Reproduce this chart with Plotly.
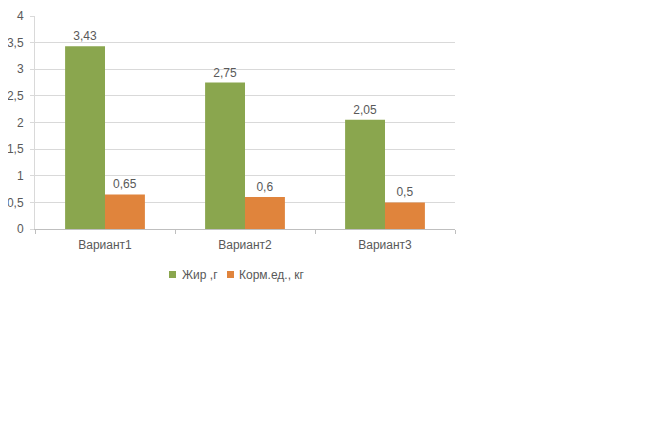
import plotly.graph_objects as go

categories = ["Вариант1", "Вариант2", "Вариант3"]
fat_values = [3.43, 2.75, 2.05]
feed_values = [0.65, 0.6, 0.5]
series_names = ["Жир ,г", "Корм.ед., кг"]
series_colors = ["#8aa64e", "#e0843c"]
y_ticks = [0, 0.5, 1, 1.5, 2, 2.5, 3, 3.5, 4]


def fmt(v):
    return ("%g" % v).replace(".", ",")


font = dict(family="Liberation Sans, Arial, sans-serif", size=12, color="#595959")

# page body has an 8px default margin, so the figure is 16px smaller
OFF = 8
W, H = 656 - 2 * OFF, 423 - 2 * OFF
L, T = 35 - OFF, 16 - OFF
PW, PH = 420, 213
R, B = W - L - PW, H - T - PH


def px_x(p):
    return (p - OFF - L) / PW


def px_y(p):
    return (T + PH - (p - OFF)) / PH


fig = go.Figure()
for name, vals, col in zip(series_names, [fat_values, feed_values], series_colors):
    fig.add_trace(go.Bar(
        name=name, x=categories, y=vals,
        marker=dict(color=col, line=dict(width=0)),
        text=[fmt(v) for v in vals], textposition="outside",
        textfont=font, cliponaxis=False,
    ))

# manual legend (compact like the original)
legend_items = [(169, 180), (227, 237)]
for (sq, tx), name, col in zip(legend_items, series_names, series_colors):
    fig.add_shape(type="rect", xref="paper", yref="paper",
                  x0=px_x(sq), x1=px_x(sq + 7), y0=px_y(271), y1=px_y(278),
                  fillcolor=col, line=dict(width=0))
    fig.add_annotation(xref="paper", yref="paper", x=px_x(tx), y=px_y(274.5),
                       xanchor="left", yanchor="middle", text=name, showarrow=False,
                       font=font)

fig.update_layout(
    width=W, height=H,
    margin=dict(l=L, r=R, t=T, b=B, autoexpand=False),
    barmode="group", bargap=0.43, bargroupgap=0,
    plot_bgcolor="white", paper_bgcolor="white",
    font=font,
    showlegend=False,
)
fig.update_yaxes(
    range=[0, 4], tickvals=y_ticks, ticktext=[fmt(v) for v in y_ticks],
    showgrid=True, gridcolor="#d9d9d9", gridwidth=1,
    showline=True, linecolor="#d9d9d9", ticks="outside", ticklen=4, tickcolor="#d9d9d9",
    zeroline=False, tickfont=font, automargin=False, ticklabelstandoff=4,
    ticklabeloverflow="allow",
)
fig.update_xaxes(
    showline=True, linecolor="#bfbfbf", ticks="outside", tickson="boundaries",
    ticklen=4, tickcolor="#bfbfbf", tickfont=font, showgrid=False,
    automargin=False, ticklabelstandoff=5, ticklabeloverflow="allow",
)

fig.write_html("out.html")
